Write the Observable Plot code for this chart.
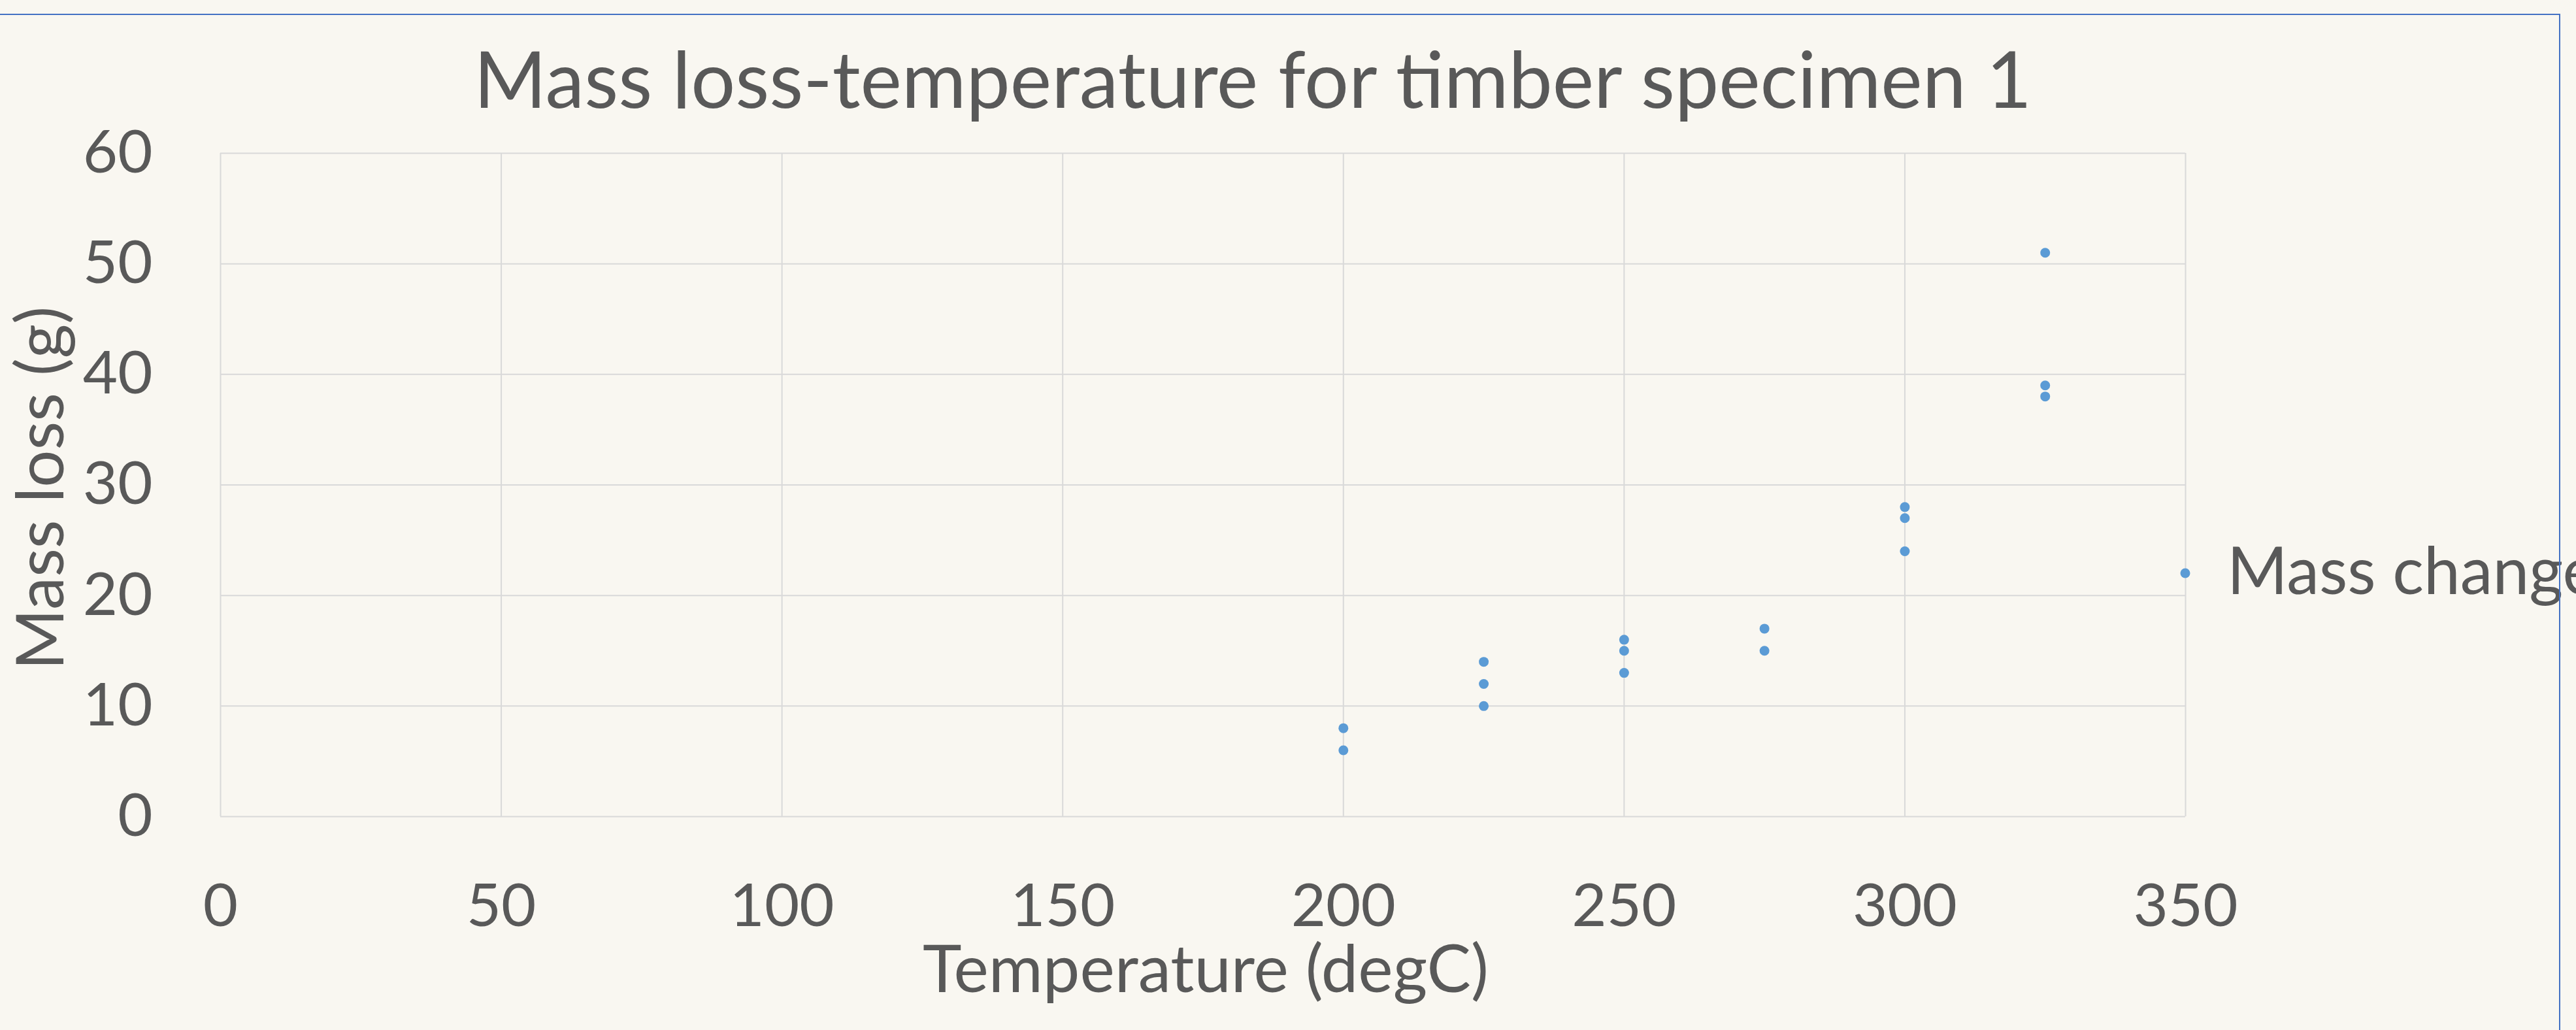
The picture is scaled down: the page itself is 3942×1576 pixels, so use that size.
<!DOCTYPE html>
<html>
<head>
<meta charset="utf-8">
<script src="https://cdn.jsdelivr.net/npm/d3@7"></script>
<script src="https://cdn.jsdelivr.net/npm/@observablehq/plot@0.6"></script>
<style>
  html, body { margin: 0; padding: 0; background: #f9f7f1; overflow: hidden; }
  #chart svg { display: block; }
</style>
</head>
<body>
<div id="chart"></div>
<script>
// ---- data ----
const temperature = [200, 200, 225, 225, 225, 250, 250, 250, 275, 275, 300, 300, 300, 325, 325, 325];
const massLoss    = [8, 6, 14, 12, 10, 16, 15, 13, 17, 15, 28, 27, 24, 51, 39, 38];
const xTicks = [0, 50, 100, 150, 200, 250, 300, 350];
const yTicks = [0, 10, 20, 30, 40, 50, 60];
const titleText = "Mass loss-temperature for timber specimen 1";
const xTitle = "Temperature (degC)";
const yTitle = "Mass loss (g)";
const seriesName = "Mass change";

const rows = temperature.map((t, i) => ({t, m: massLoss[i]}));

const W = 3942, H = 1576;
const textColor = "#595959";
const gridColor = "#d9d9d9";
const dotColor = "#5b9bd5";
const font = "Lato, 'Open Sans', sans-serif";

const chart = Plot.plot({
  width: W,
  height: H,
  marginLeft: 337,
  marginRight: W - 3344,
  marginTop: 234,
  marginBottom: H - 1249,
  style: {background: "transparent", fontFamily: font, fontSize: "92px", color: textColor, overflow: "visible"},
  x: {domain: [0, 350], ticks: xTicks, tickSize: 0, tickPadding: 102, label: null},
  y: {domain: [0, 60], ticks: yTicks, tickSize: 0, tickPadding: 104, label: null},
  marks: [
    Plot.ruleX(xTicks, {stroke: gridColor, strokeWidth: 2}),
    Plot.ruleY(yTicks, {stroke: gridColor, strokeWidth: 2}),
    Plot.dot(rows, {x: "t", y: "m", r: 7.5, fill: dotColor, stroke: null})
  ]
});

document.getElementById("chart").appendChild(chart);

const svg = d3.select(chart);
// title
svg.append("text")
  .attr("x", 1917).attr("y", 165)
  .attr("text-anchor", "middle")
  .attr("font-family", font).attr("font-size", 120)
  .attr("fill", textColor)
  .text(titleText);
// x axis title
svg.append("text")
  .attr("x", 1845).attr("y", 1518)
  .attr("text-anchor", "middle")
  .attr("font-family", font).attr("font-size", 101)
  .attr("fill", textColor)
  .text(xTitle);
// y axis title
svg.append("text")
  .attr("transform", "translate(97,747) rotate(-90)")
  .attr("text-anchor", "middle")
  .attr("font-family", font).attr("font-size", 101)
  .attr("fill", textColor)
  .text(yTitle);
// legend
svg.append("circle")
  .attr("cx", 3344).attr("cy", 877).attr("r", 7.5)
  .attr("fill", dotColor);
svg.append("text")
  .attr("x", 3408).attr("y", 909)
  .attr("text-anchor", "start")
  .attr("font-family", font).attr("font-size", 100)
  .attr("fill", textColor)
  .text(seriesName);
// selection border of the chart area
svg.append("rect")
  .attr("x", -20).attr("y", 22)
  .attr("width", 3917 + 20).attr("height", H + 100)
  .attr("fill", "none")
  .attr("stroke", "#4472c4").attr("stroke-width", 2);
</script>
</body>
</html>
